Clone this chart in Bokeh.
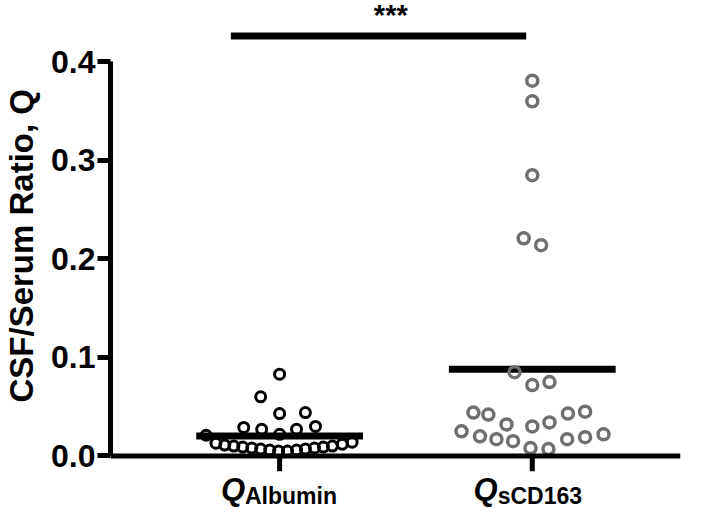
import numpy as np
from bokeh.plotting import figure
from bokeh.models import Range1d, FixedTicker, Label, ColumnDataSource, Span
from bokeh.embed import file_html
from bokeh.resources import INLINE

# ---- data ----
categories = ["Albumin", "sCD163"]
cat_pos = [1, 2]

alb_values = [0.083, 0.060, 0.043, 0.044, 0.029, 0.027, 0.022, 0.027, 0.030, 0.021,
              0.013, 0.011, 0.010, 0.009, 0.008, 0.007, 0.006, 0.005,
              0.005, 0.006, 0.007, 0.008, 0.009, 0.010, 0.012, 0.014]
alb_jitter = [0.0, -0.075, 0.0, 0.102, -0.142, -0.071, 0.0, 0.067, 0.142, -0.291,
              -0.252, -0.217, -0.181, -0.146, -0.110, -0.075, -0.039, -0.004,
              0.031, 0.067, 0.102, 0.138, 0.173, 0.209, 0.248, 0.287]

scd_values = [0.381, 0.360, 0.285, 0.221, 0.214, 0.085, 0.072, 0.075,
              0.044, 0.042, 0.043, 0.045, 0.032, 0.030, 0.034,
              0.025, 0.020, 0.017, 0.015, 0.008, 0.007, 0.017, 0.019, 0.022]
scd_jitter = [0.0, 0.0, 0.0, -0.034, 0.035, -0.070, 0.0, 0.068,
              -0.233, -0.174, 0.141, 0.209, -0.102, 0.0, 0.068,
              -0.280, -0.207, -0.142, -0.076, -0.007, 0.064, 0.138, 0.209, 0.282]

y_ticks = [0.0, 0.1, 0.2, 0.3, 0.4]
y_tick_labels = ["0.0", "0.1", "0.2", "0.3", "0.4"]
y_title = "CSF/Serum Ratio, Q"
sig_text = "***"
sig_y = 0.4264
sig_x = [0.807, 1.976]

FONT = "Liberation Sans"
GRAY = "#6f6f6f"

p = figure(width=709, height=518, output_backend="svg", toolbar_location=None,
           x_range=Range1d(0.3307, 2.5866), y_range=Range1d(-0.0635, 0.4624),
           min_border_left=107, min_border_right=29, min_border_top=0, min_border_bottom=0)
p.outline_line_color = None
p.grid.visible = False
p.background_fill_color = "white"
p.xaxis.visible = False

# y axis
ya = p.yaxis[0]
ya.ticker = FixedTicker(ticks=y_ticks)
ya.major_label_overrides = {t: l for t, l in zip(y_ticks, y_tick_labels)}
ya.bounds = (0, 0.4)
ya.axis_line_width = 5
ya.major_tick_line_width = 5
ya.major_tick_out = 13
ya.major_tick_in = 0
ya.minor_tick_line_color = None
ya.major_label_standoff = 2
ya.major_label_text_font = FONT
ya.major_label_text_font_style = "bold"
ya.major_label_text_font_size = "32px"
ya.major_label_text_color = "black"
# leading no-break spaces nudge the centred title upward to match the reference
ya.axis_label = "\u00a0\u00a0\u00a0" + y_title
ya.axis_label_text_font = FONT
ya.axis_label_text_font_style = "bold"
ya.axis_label_text_font_size = "33px"
ya.axis_label_text_color = "black"
ya.axis_label_standoff = 8

# x axis line and category ticks
p.add_layout(Span(location=0, dimension="width", line_width=5, line_color="black"))
p.segment(x0=cat_pos, x1=cat_pos, y0=[0] * len(cat_pos), y1=[-0.0155] * len(cat_pos),
          line_width=5, line_color="black")

# means
means = [float(np.mean(alb_values)), float(np.mean(scd_values))]
p.segment(x0=[c - 0.33 for c in cat_pos], x1=[c + 0.33 for c in cat_pos],
          y0=means, y1=means, line_width=7, line_color="black")

# points
alb_src = ColumnDataSource(dict(x=[cat_pos[0] + j for j in alb_jitter], y=alb_values))
scd_src = ColumnDataSource(dict(x=[cat_pos[1] + j for j in scd_jitter], y=scd_values))
p.scatter("x", "y", source=alb_src, size=10, line_width=3, line_color="black",
          fill_color=None)
p.scatter("x", "y", source=scd_src, size=11, line_width=3.5, line_color=GRAY,
          fill_color=None)

# significance bar
p.segment(x0=[sig_x[0]], x1=[sig_x[1]], y0=[sig_y], y1=[sig_y], line_width=7,
          line_color="black")
p.add_layout(Label(x=1.44, y=0.4474, text=sig_text, text_align="center",
                   text_baseline="alphabetic", text_font=FONT, text_font_style="bold",
                   text_font_size="29px", text_color="black"))

# category labels
for c, name in zip(cat_pos, categories):
    p.add_layout(Label(x=c - 0.137, y=-0.0343, text="Q", text_align="right",
                       text_baseline="alphabetic", text_font=FONT,
                       text_font_style="bold italic", text_font_size="31px",
                       text_color="black"))
    p.add_layout(Label(x=c - 0.137, y=-0.0403, text=name, text_align="left",
                       text_baseline="alphabetic", text_font=FONT,
                       text_font_style="bold", text_font_size="23px",
                       text_color="black"))

open("out.html", "w").write(file_html(p, INLINE))
